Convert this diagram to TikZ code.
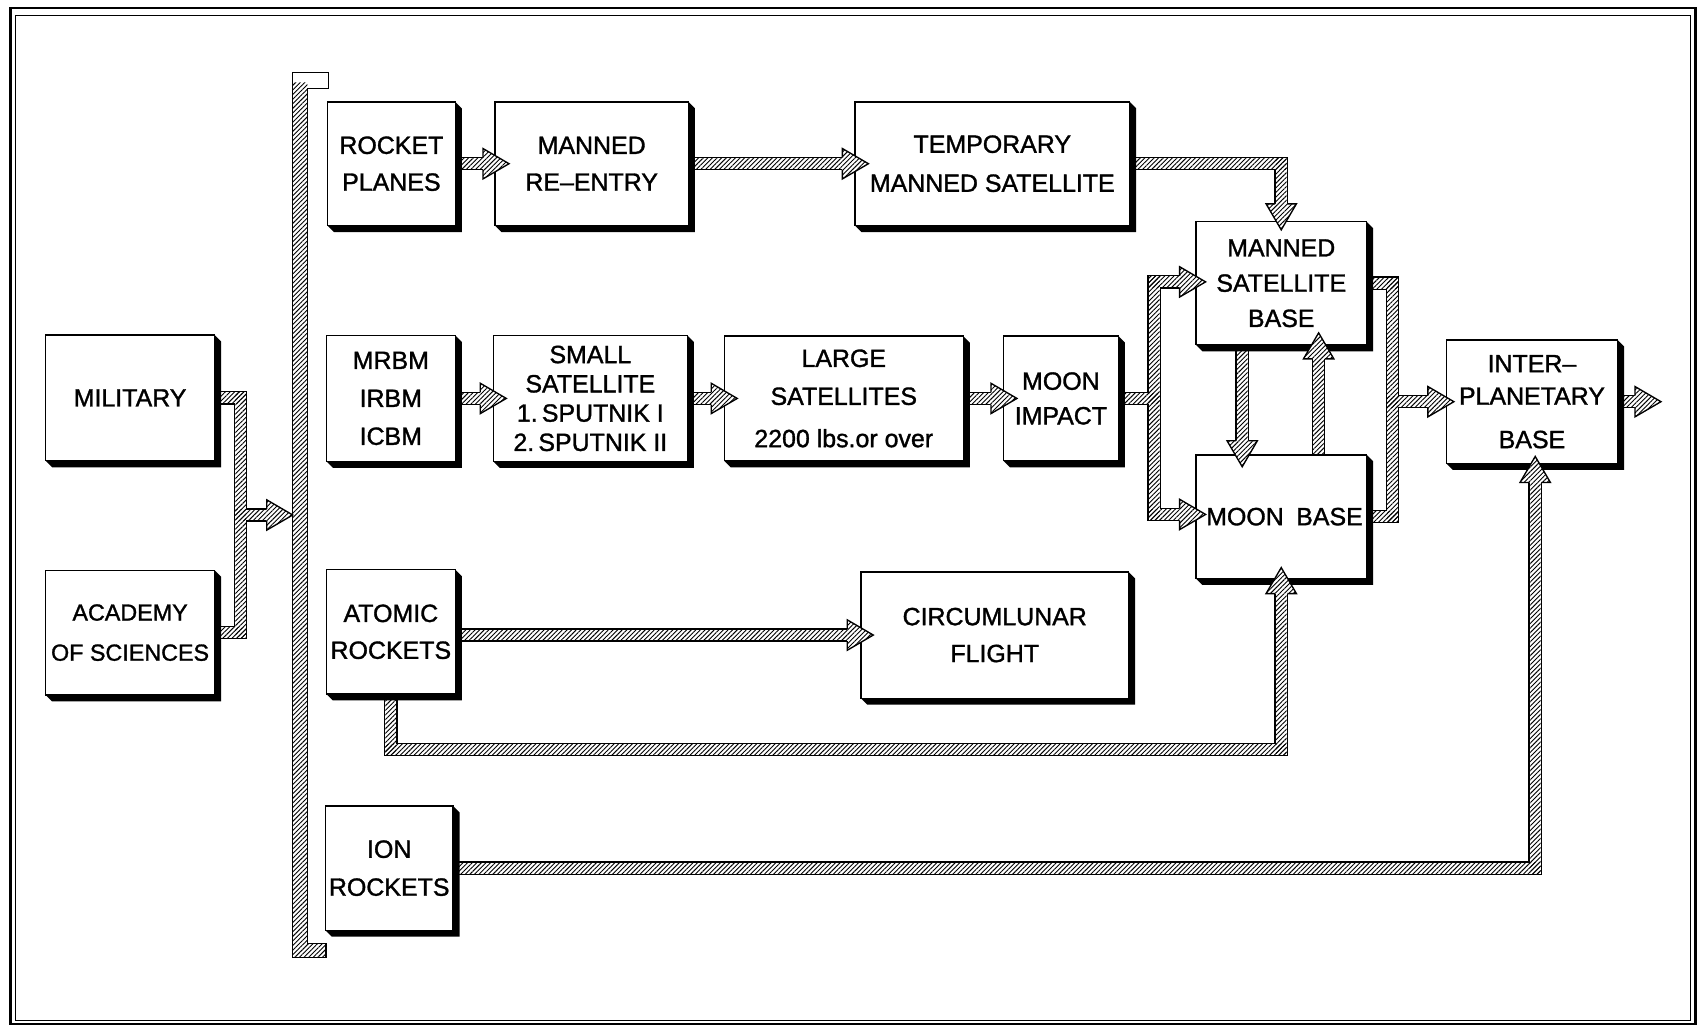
\documentclass[tikz,border=0pt]{standalone}
\usepackage{fontspec}
\setmainfont{Liberation Sans}
\newfontfamily\heavy{Liberation Sans}[FakeBold=1.3]
\usetikzlibrary{patterns.meta,calc}
\pgfdeclarelayer{bg}\pgfdeclarelayer{bk}\pgfdeclarelayer{wh}\pgfdeclarelayer{ha}\pgfdeclarelayer{hd}
\pgfsetlayers{bg,bk,wh,ha,main,hd}
\tikzset{
  hatch/.style={pattern={Lines[angle=45,distance=3pt,line width=0.85pt]}},
  box/.style={draw, line width=1.3pt, fill=white, inner sep=0pt, align=center,
              font=\heavy\fontsize{23}{34}\selectfont},
  bandk/.style={line width=12.5pt, line join=miter, draw=black},
  bandw/.style={line width=10pt, line join=miter, draw=white},
  headline/.style={line width=1.25pt, line join=miter, miter limit=20}
}
% box: [opts]{name}{L}{T}{R}{B}{text}
\newcommand\bx[7][]{%
  \node[box,#1, minimum width={#5-#3}, minimum height={#6-#4}] (#2) at ({(#3+#5)/2},{(#4+#6)/2}) {#7};
  \fill (#5,#4) -- (#5+6,#4+6) -- (#5+6,#6+6) -- (#3+6,#6+6) -- (#3,#6) -- (#5,#6) -- cycle;}
\newcommand\band[1]{%
  \begin{pgfonlayer}{bk}\draw[bandk] #1;\end{pgfonlayer}%
  \begin{pgfonlayer}{wh}\draw[bandw] #1;\end{pgfonlayer}}
\newcommand\seg[4]{\begin{pgfonlayer}{ha}\fill[hatch] ({#1-5},{#2-5}) rectangle ({#3+5},{#4+5});\end{pgfonlayer}}
% head: tip x, tip y, dx, dy
\newcommand\head[4]{%
  \begin{pgfonlayer}{hd}
  \fill[white] ({#1-24*(#3)-14*(#4)},{#2-24*(#4)+14*(#3)}) -- (#1,#2) -- ({#1-24*(#3)+14*(#4)},{#2-24*(#4)-14*(#3)}) -- cycle;
  \fill[hatch] ({#1-24*(#3)-14*(#4)},{#2-24*(#4)+14*(#3)}) -- (#1,#2) -- ({#1-24*(#3)+14*(#4)},{#2-24*(#4)-14*(#3)}) -- cycle;
  \draw[headline] ({#1-24*(#3)-5.625*(#4)},{#2-24*(#4)+5.625*(#3)}) -- ({#1-24*(#3)-14*(#4)},{#2-24*(#4)+14*(#3)}) -- (#1,#2) -- ({#1-24*(#3)+14*(#4)},{#2-24*(#4)-14*(#3)}) -- ({#1-24*(#3)+5.625*(#4)},{#2-24*(#4)-5.625*(#3)});
  \end{pgfonlayer}}
\begin{document}
\begin{tikzpicture}[x=1pt,y=-1pt]
\useasboundingbox (0,0) rectangle (1568,947);
\begin{pgfonlayer}{bg}\fill[white] (0,0) rectangle (1568,947);\end{pgfonlayer}
% frame
\draw[line width=2.5pt] (9.5,7.5) rectangle (1564,944.5);
\draw[line width=0.8pt] (14,14.5) rectangle (1559.5,941);

% boxes
\bx{MIL}{42}{309}{198}{425}{MILITARY}
\bx[font=\heavy\fontsize{21.5}{34}\selectfont]{ACAD}{42}{526}{198}{641}{ACADEMY\\[3pt]OF SCIENCES}
\bx{ROCK}{302}{94}{420}{208}{ROCKET\\PLANES}
\bx{MRE}{456.5}{94}{635}{208}{MANNED\\RE–ENTRY}
\bx{TEMP}{788.5}{94}{1042}{208}{TEMPORARY\\[2pt]MANNED SATELLITE}
\bx{MRBM}{301}{309.5}{420}{425.5}{MRBM\\[1pt]IRBM\\[1pt]ICBM}
\bx[font=\heavy\fontsize{23}{27}\selectfont]{SSAT}{455}{309.5}{634}{425.5}{SMALL\\SATELLITE\\1.\,SPUTNIK I\\2.\,SPUTNIK II}
\bx{LSAT}{668}{310}{888.5}{425}{LARGE\\[1pt]SATELLITES\\[5pt]2200 lbs.or over}
\bx{MIMP}{925.5}{310}{1031.5}{425}{MOON\\[-2pt]IMPACT}
\bx{MSB}{1103}{204.5}{1260.5}{318}{MANNED\\[-1.5pt]SATELLITE\\[-1.5pt]BASE}
\bx{MB}{1103}{419.5}{1260.5}{533.5}{\hspace*{6pt}MOON\hspace{0.5em}BASE}
\bx{IPB}{1334}{313.5}{1492}{427.5}{INTER–\\[-4pt]PLANETARY\\[6pt]BASE}
\bx{ATOM}{301}{525.5}{420}{640}{ATOMIC\\ROCKETS}
\bx{CIRC}{794}{527.5}{1041}{644}{CIRCUMLUNAR\\FLIGHT}
\bx{ION}{300}{743.5}{418}{858}{ION\\[1pt]ROCKETS}

% bracket
\coordinate (BR) at (270,475);
\begin{scope}
  \clip (270,76) rectangle (283.4,883) (283.4,870) rectangle (300.7,883);
  \fill[hatch] (260,60) rectangle (310,890);
\end{scope}
\draw[line width=1.3pt] (270,67) -- (303,67) -- (303,81.5) -- (283.4,81.5) -- (283.4,870) -- (300.7,870) -- (300.7,883) -- (270,883) -- cycle;

% MILITARY / ACADEMY -> bracket
\band{(MIL.center) -- (222,367) -- (222,583.5) -- (ACAD.center)}
\band{(222,475) -- (246,475)}
\seg{120}{367}{222}{367}\seg{222}{367}{222}{583.5}\seg{120}{583.5}{222}{583.5}\seg{222}{475}{246}{475}
\head{270}{475}{1}{0}

% row 1
\band{(ROCK.center) -- (445.5,151)}
\seg{361}{151}{445.5}{151}
\head{469.5}{151}{1}{0}
\band{(MRE.center) -- (777,151)}
\seg{545.75}{151}{777}{151}
\head{801}{151}{1}{0}
\band{(TEMP.center) -- (1181.75,151) -- (1181.75,188)}
\seg{915.25}{151}{1181.75}{151}\seg{1181.75}{151}{1181.75}{188}
\head{1181.75}{212}{0}{1}

% row 2
\band{(MRBM.center) -- (443,367.5)}
\seg{360.5}{367.5}{443}{367.5}
\head{467}{367.5}{1}{0}
\band{(SSAT.center) -- (656,367.5)}
\seg{544.5}{367.5}{656}{367.5}
\head{680}{367.5}{1}{0}
\band{(LSAT.center) -- (914,367.5)}
\seg{778.25}{367.5}{914}{367.5}
\head{938}{367.5}{1}{0}

% moon impact fork
\band{(MIMP.center) -- (1064.5,367.5)}
\band{(1088,260) -- (1064.5,260) -- (1064.5,474.5) -- (1088,474.5)}
\seg{978.5}{367.5}{1064.5}{367.5}\seg{1064.5}{260}{1088}{260}\seg{1064.5}{260}{1064.5}{474.5}\seg{1064.5}{474.5}{1088}{474.5}
\head{1112}{260}{1}{0}
\head{1112}{474.5}{1}{0}

% MSB <-> MB
\band{($(MSB.south)+(-36,-10)$) -- (1145.75,406.5)}
\seg{1145.75}{308}{1145.75}{406.5}
\head{1145.75}{430.5}{0}{1}
\band{($(MB.north)+(34.5,10)$) -- (1216.25,331)}
\seg{1216.25}{331}{1216.25}{430}
\head{1216.25}{307}{0}{-1}

% right merge -> IPB
\band{(MSB.center) -- (1284.5,261.25) -- (1284.5,476.5) -- (MB.center)}
\band{(1284.5,370.5) -- (1317,370.5)}
\seg{1181.75}{261.25}{1284.5}{261.25}\seg{1284.5}{261.25}{1284.5}{476.5}\seg{1181.75}{476.5}{1284.5}{476.5}\seg{1284.5}{370.5}{1317}{370.5}
\head{1341}{370.5}{1}{0}

% IPB out
\coordinate (OUT) at (1532,370.5);
\band{(IPB.center) -- (1508,370.5)}
\seg{1413}{370.5}{1508}{370.5}
\head{1532}{370.5}{1}{0}

% atomic -> circumlunar
\band{(ATOM.center |- CIRC.center) -- (781.5,585.75)}
\seg{360.5}{585.75}{781.5}{585.75}
\head{805.5}{585.75}{1}{0}

% atomic -> moon base
\band{(ATOM.center) |- (1181.75,691.5) -- (1181.75,547.5)}
\seg{360.5}{582.75}{360.5}{691.5}\seg{360.5}{691.5}{1181.75}{691.5}\seg{1181.75}{547.5}{1181.75}{691.5}
\head{1181.75}{523.5}{0}{-1}

% ion -> IPB
\band{(ION.center) -| (1416,445)}
\seg{359}{800.75}{1416}{800.75}\seg{1416}{445}{1416}{800.75}
\head{1416}{421}{0}{-1}
\end{tikzpicture}
\end{document}
